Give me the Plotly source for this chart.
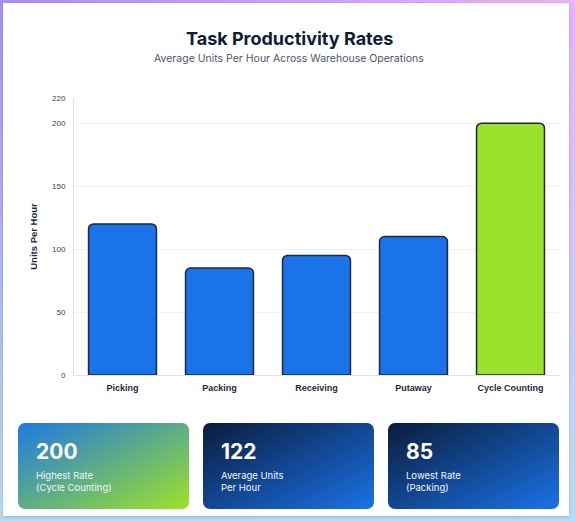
import base64
import plotly.graph_objects as go

# ---- data ----
categories = ["Picking", "Packing", "Receiving", "Putaway", "Cycle Counting"]
units_per_hour = [120, 85, 95, 110, 200]
y_ticks = [0, 50, 100, 150, 200, 220]

W, H = 575, 521

BLUE = "#1a73e8"
GREEN = "#9be22d"

bar_colors = [GREEN if v == max(units_per_hour) else BLUE for v in units_per_hour]

hi = max(units_per_hour)
lo = min(units_per_hour)
avg = round(sum(units_per_hour) / len(units_per_hour))
hi_cat = categories[units_per_hour.index(hi)]
lo_cat = categories[units_per_hour.index(lo)]


def px_x(x):
    return x / W


def px_y(y):
    return 1 - y / H


def svg_uri(svg):
    return "data:image/svg+xml;base64," + base64.b64encode(svg.encode()).decode()


def grad_card(w, h, c1, c2, r):
    svg = (
        f'<svg xmlns="http://www.w3.org/2000/svg" width="{w}" height="{h}" viewBox="0 0 {w} {h}">'
        f'<defs><linearGradient id="g" x1="0" y1="0" x2="1" y2="1">'
        f'<stop offset="0" stop-color="{c1}"/><stop offset="1" stop-color="{c2}"/>'
        f'</linearGradient></defs>'
        f'<rect x="0" y="0" width="{w}" height="{h}" rx="{r}" ry="{r}" fill="url(#g)"/></svg>'
    )
    return svg_uri(svg)


bg_svg = (
    f'<svg xmlns="http://www.w3.org/2000/svg" width="{W}" height="{H}" viewBox="0 0 {W} {H}">'
    '<defs>'
    '<linearGradient id="h" x1="0" y1="0" x2="1" y2="0">'
    '<stop offset="0" stop-color="#a98ff6"/><stop offset="1" stop-color="#ecb2f6"/></linearGradient>'
    '<linearGradient id="v" x1="0" y1="0" x2="0" y2="1">'
    '<stop offset="0" stop-color="#b9dcf3" stop-opacity="0"/>'
    '<stop offset="1" stop-color="#b9dcf3" stop-opacity="1"/></linearGradient>'
    '<filter id="s" x="-5%" y="-5%" width="110%" height="110%">'
    '<feDropShadow dx="0" dy="1" stdDeviation="1.5" flood-color="#334" flood-opacity="0.25"/></filter>'
    '</defs>'
    f'<rect width="{W}" height="{H}" fill="url(#h)"/>'
    f'<rect width="{W}" height="{H}" fill="url(#v)"/>'
    '<rect x="3" y="3" width="566" height="513" fill="#ffffff" filter="url(#s)"/>'
    '</svg>'
)

fig = go.Figure()
fig.add_trace(
    go.Bar(
        x=categories,
        y=units_per_hour,
        marker=dict(color=bar_colors, line=dict(color="#1e293b", width=1.5)),
        width=0.7,
        hoverinfo="x+y",
    )
)

images = [
    dict(source=svg_uri(bg_svg), xref="paper", yref="paper", x=0, y=1,
         sizex=1, sizey=1, xanchor="left", yanchor="top", sizing="stretch", layer="below"),
]

cards = [
    (18, 189, "#1f78e2", "#9de22a", str(hi), "Highest Rate", f"({hi_cat})"),
    (203, 374, "#0b1c3d", "#1a72e6", str(avg), "Average Units", "Per Hour"),
    (388, 559, "#0b1c3d", "#1a72e6", str(lo), "Lowest Rate", f"({lo_cat})"),
]
card_top, card_bot = 423, 509
annotations = []
for x0, x1, c1, c2, val, l1, l2 in cards:
    w = x1 - x0
    h = card_bot - card_top
    images.append(dict(source=grad_card(w, h, c1, c2, 7), xref="paper", yref="paper",
                       x=px_x(x0), y=px_y(card_top), sizex=w / W, sizey=h / H,
                       xanchor="left", yanchor="top", sizing="stretch", layer="above"))
    annotations.append(dict(text=f"<b>{val}</b>", x=px_x(x0 + 16), y=px_y(451),
                            xref="paper", yref="paper", xanchor="left", yanchor="middle",
                            showarrow=False, font=dict(family="Inter", size=21, color="#ffffff")))
    annotations.append(dict(text=l1, x=px_x(x0 + 16), y=px_y(475.5),
                            xref="paper", yref="paper", xanchor="left", yanchor="middle",
                            showarrow=False, font=dict(family="Inter", size=9.5, color="#f1f5fb")))
    annotations.append(dict(text=l2, x=px_x(x0 + 16), y=px_y(487),
                            xref="paper", yref="paper", xanchor="left", yanchor="middle",
                            showarrow=False, font=dict(family="Inter", size=9.5, color="#f1f5fb")))

annotations.append(dict(text="<b>Task Productivity Rates</b>", x=px_x(289), y=px_y(38),
                        xref="paper", yref="paper", xanchor="center", yanchor="middle",
                        showarrow=False, font=dict(family="Inter", size=18, color="#0f1c36")))
annotations.append(dict(text="Average Units Per Hour Across Warehouse Operations", x=px_x(289), y=px_y(58.5),
                        xref="paper", yref="paper", xanchor="center", yanchor="middle",
                        showarrow=False, font=dict(family="Inter", size=10.5, color="#4a5568")))

fig.update_layout(
    width=W,
    height=H,
    margin=dict(l=0, r=0, t=0, b=0),
    paper_bgcolor="#ffffff",
    plot_bgcolor="rgba(0,0,0,0)",
    showlegend=False,
    barcornerradius=5,
    images=images,
    annotations=annotations,
    xaxis=dict(
        domain=[px_x(74), px_x(559)],
        automargin=False,
        showgrid=False,
        showline=True,
        linecolor="#dfe3ea",
        linewidth=1,
        ticks="outside",
        ticklen=4,
        tickcolor="rgba(0,0,0,0)",
        tickfont=dict(family="Liberation Sans", size=9, color="#1e293b", weight="bold"),
        fixedrange=True,
    ),
    yaxis=dict(
        domain=[px_y(375), px_y(98)],
        automargin=False,
        range=[0, 220],
        tickvals=y_ticks,
        showgrid=True,
        gridcolor="#eef0f6",
        gridwidth=1,
        zeroline=False,
        showline=True,
        linecolor="#dfe3ea",
        linewidth=1,
        ticks="outside",
        ticklen=6,
        tickcolor="rgba(0,0,0,0)",
        tickfont=dict(family="Liberation Sans", size=8, color="#3b4252"),
        title=dict(text="<b>Units Per Hour</b>", standoff=12,
                   font=dict(family="Liberation Sans", size=9.5, color="#1e293b")),
        fixedrange=True,
    ),
)

page_fix = (
    "document.documentElement.style.overflow='hidden';"
    "document.body.style.margin='0px';"
    "document.body.style.overflow='hidden';"
)
fig.write_html("out.html", post_script=page_fix, config={"displayModeBar": False})
